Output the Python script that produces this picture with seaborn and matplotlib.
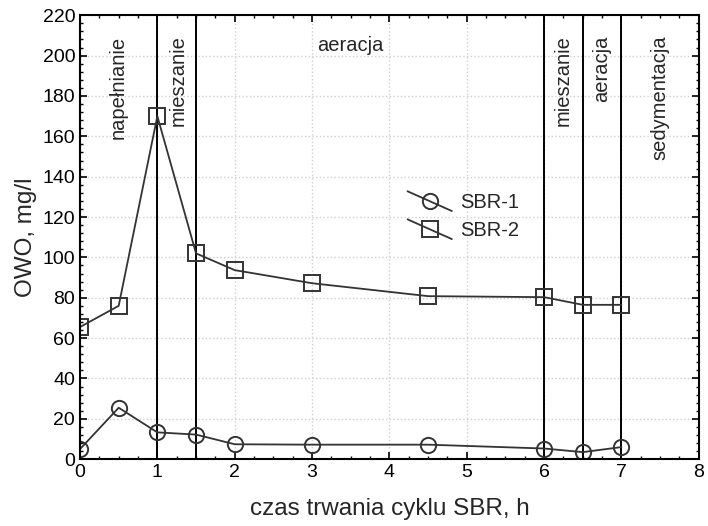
import matplotlib
matplotlib.use('Agg')
import matplotlib.pyplot as plt
import seaborn as sns
import numpy as np
import pandas as pd
from matplotlib.legend_handler import HandlerLine2D
from matplotlib.ticker import MultipleLocator

# data
czas = [0, 0.5, 1, 1.5, 2, 3, 4.5, 6, 6.5, 7]
sbr1 = [5.0, 25.5, 13.3, 12.2, 7.4, 7.2, 7.2, 5.3, 3.5, 6.0]
sbr2 = [65.5, 76.0, 170.0, 102.0, 93.7, 87.2, 80.8, 80.3, 76.5, 76.5]
granice = [1, 1.5, 6, 6.5, 7]
etapy = ['napełnianie', 'mieszanie', 'mieszanie', 'aeracja', 'sedymentacja']
etapy_x = [0.5, 1.27, 6.25, 6.75, 7.5]

sns.set_theme(style="ticks")
plt.rcParams['font.family'] = ['Liberation Sans', 'DejaVu Sans']

df = pd.DataFrame({'czas': czas * 2, 'owo': sbr1 + sbr2,
                   'seria': ['SBR-1'] * len(czas) + ['SBR-2'] * len(czas)})

fig = plt.figure(figsize=(7.08, 5.26), dpi=100)
ax = fig.add_axes([0.113, 0.127, 0.874, 0.844])

lc = '#333333'
for seria, mk in [('SBR-1', 'o'), ('SBR-2', 's')]:
    sns.lineplot(data=df[df.seria == seria], x='czas', y='owo', ax=ax, color=lc,
                 marker=mk, markersize=11, markerfacecolor='none',
                 markeredgecolor=lc, markeredgewidth=1.4, linewidth=1.3,
                 label=seria, legend=False)

for g in granice:
    ax.axvline(g, color='black', linewidth=1.4, zorder=1)

for txt, xx in zip(etapy, etapy_x):
    ax.text(xx, 210, txt, rotation=90, ha='center', va='top', fontsize=14.5)
ax.text(3.5, 205, 'aeracja', ha='center', va='center', fontsize=14.5)

ax.set_xlim(0, 8)
ax.set_ylim(0, 220)
ax.xaxis.set_major_locator(MultipleLocator(1))
ax.xaxis.set_minor_locator(MultipleLocator(0.25))
ax.yaxis.set_major_locator(MultipleLocator(20))
ax.yaxis.set_minor_locator(MultipleLocator(4))
ax.tick_params(which='both', direction='in', top=True, right=True, color='black')
ax.tick_params(which='major', length=5, width=1.2, labelsize=14, colors='black')
ax.tick_params(which='minor', length=2.5, width=1)
ax.grid(True, which='major', color='#d0d0d0', linestyle=':', linewidth=1)
ax.set_axisbelow(True)
for s in ax.spines.values():
    s.set_color('black')
    s.set_linewidth(1.5)

ax.set_xlabel('czas trwania cyklu SBR, h', fontsize=17.5, labelpad=12)
ax.set_ylabel('OWO, mg/l', fontsize=17.5, labelpad=4)


class SlantHandler(HandlerLine2D):
    def create_artists(self, legend, orig_handle, xdescent, ydescent,
                       width, height, fontsize, trans):
        arts = super().create_artists(legend, orig_handle, xdescent, ydescent,
                                      width, height, fontsize, trans)
        for a in arts:
            xd = a.get_xdata()
            if len(xd) > 1:
                y0 = height / 2 - ydescent
                a.set_ydata(np.linspace(y0 + height * 0.7, y0 - height * 0.7, len(xd)))
        return arts


h, l = ax.get_legend_handles_labels()
ax.legend(h, l, loc='upper left', bbox_to_anchor=(0.5, 0.64), frameon=False,
          fontsize=14.5, handlelength=2.2, handletextpad=0.4, labelspacing=0.45,
          handler_map={type(h[0]): SlantHandler(numpoints=1)})

fig.savefig('out.png', dpi=100)
